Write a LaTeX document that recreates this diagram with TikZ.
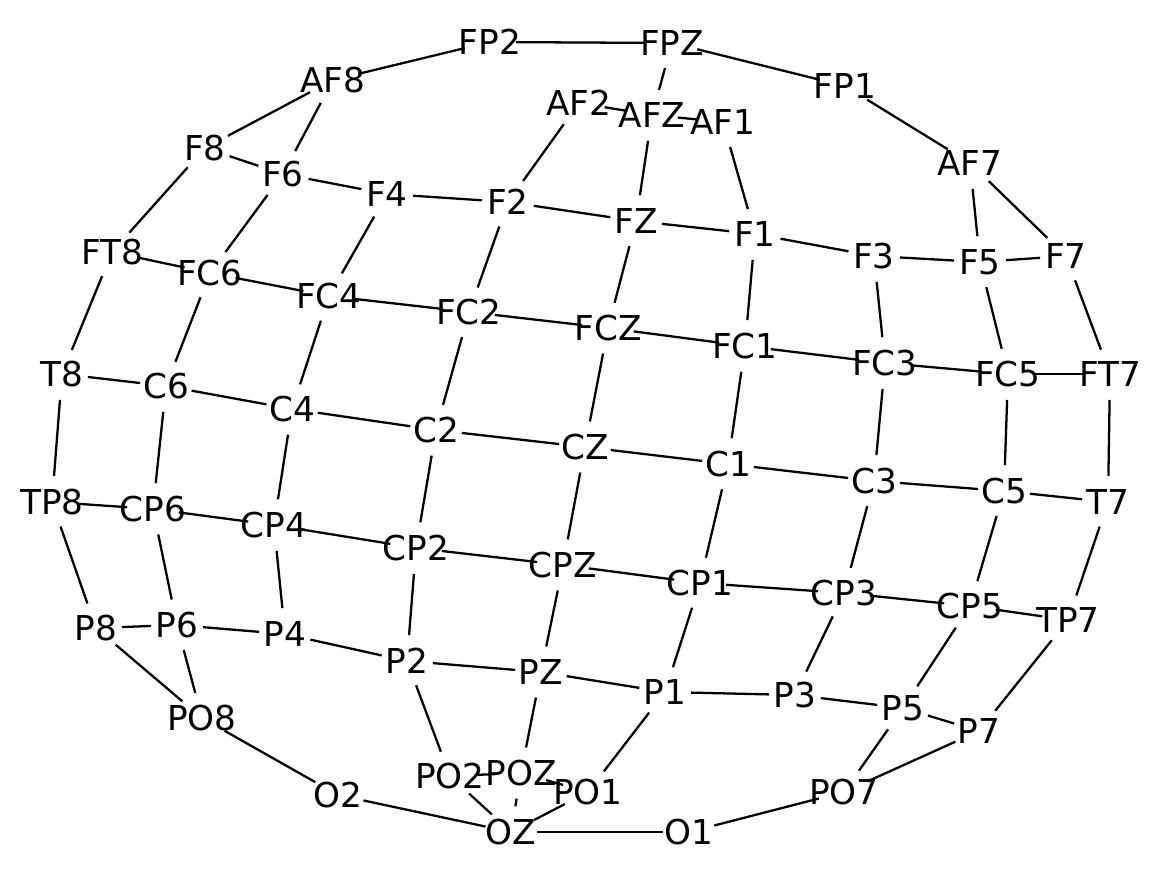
\documentclass[tikz,border=0pt]{standalone}
\usepackage{fontspec}
\setmainfont{DejaVu Sans}
\usetikzlibrary{positioning}
\usetikzlibrary{calc}

\begin{document}
\begin{tikzpicture}[x=0.02cm,y=-0.02cm,
		electrode/.style={inner sep=0pt,font=\fontsize{19.5}{19.5}\selectfont},
		link/.style={line width=1.3pt,shorten <=0.52cm,shorten >=0.52cm}]
		\useasboundingbox (0,0) rectangle (1170,876);
		% Place the electrodes
		\foreach \name/\x/\y in {FP2/490/42, FPZ/672/43, FP1/845/86, AF8/333/80,
			AF2/579/103, AFZ/652/115, AF1/723/122, AF7/970/163,
			F8/205/148, F6/283/174, F4/387/194, F2/508/202, FZ/636/221,
			F1/755/234, F3/874/256, F5/980/262, F7/1066/256,
			FT8/112/252, FC6/210/273, FC4/329/296, FC2/469/312, FCZ/608/328,
			FC1/745/346, FC3/885/363, FC5/1008/374, FT7/1110/374,
			T8/62/374, C6/166/386, C4/292/409, C2/436/430, CZ/585/447,
			C1/728/464, C3/874/481, C5/1004/491, T7/1108/502,
			TP8/52/502, CP6/153/509, CP4/274/525, CP2/416/548, CPZ/563/565,
			CP1/700/583, CP3/844/593, CP5/970/606, TP7/1068/620,
			P8/96/628, P6/177/625, P4/285/634, P2/407/661, PZ/541/672,
			P1/665/692, P3/795/695, P5/903/708, P7/979/731,
			PO8/202/718, PO2/450/776, POZ/521/773, PO1/588/792, PO7/844/792,
			O2/338/795, OZ/511/832, O1/689/832}
		\node[electrode] (\name) at (\x,\y) {\name};

		% Draw the links
		\foreach \a/\b in {FP2/FPZ, FPZ/FP1, FP2/AF8, FP1/AF7, FPZ/AFZ,
			AF8/F8, AF8/F6, AF2/AFZ, AFZ/AF1, AF2/F2, AFZ/FZ, AF1/F1,
			AF7/F5, AF7/F7,
			F8/F6, F6/F4, F4/F2, F2/FZ, FZ/F1, F1/F3, F3/F5, F5/F7,
			F8/FT8, F6/FC6, F4/FC4, F2/FC2, FZ/FCZ, F1/FC1, F3/FC3, F5/FC5, F7/FT7,
			FT8/FC6, FC6/FC4, FC4/FC2, FC2/FCZ, FCZ/FC1, FC1/FC3, FC3/FC5, FC5/FT7,
			FT8/T8, FC6/C6, FC4/C4, FC2/C2, FCZ/CZ, FC1/C1, FC3/C3, FC5/C5, FT7/T7,
			T8/C6, C6/C4, C4/C2, C2/CZ, CZ/C1, C1/C3, C3/C5, C5/T7,
			T8/TP8, C6/CP6, C4/CP4, C2/CP2, CZ/CPZ, C1/CP1, C3/CP3, C5/CP5, T7/TP7,
			TP8/CP6, CP6/CP4, CP4/CP2, CP2/CPZ, CPZ/CP1, CP1/CP3, CP3/CP5, CP5/TP7,
			TP8/P8, CP6/P6, CP4/P4, CP2/P2, CPZ/PZ, CP1/P1, CP3/P3, CP5/P5, TP7/P7,
			P8/P6, P6/P4, P4/P2, P2/PZ, PZ/P1, P1/P3, P3/P5, P5/P7,
			P8/PO8, P6/PO8, P2/PO2, PZ/POZ, P1/PO1, P5/PO7, P7/PO7,
			PO8/O2, O2/OZ, OZ/O1, O1/PO7,
			PO2/POZ, POZ/PO1, PO2/OZ, POZ/OZ, PO1/OZ}
		\draw[link] (\a.center) -- (\b.center);
\end{tikzpicture}
\end{document}
